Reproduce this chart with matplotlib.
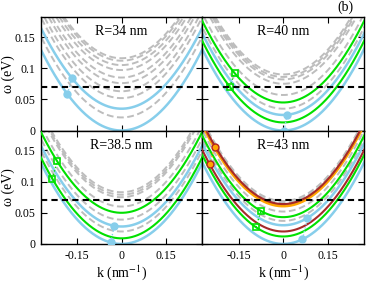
import numpy as np
import matplotlib.pyplot as plt

plt.rcParams['font.family'] = ['Liberation Serif', 'DejaVu Serif']
plt.rcParams['mathtext.fontset'] = 'stix'

# band curvature (eV nm^2) and the dashed reference energy
curv = 1.75
e_ref = 0.07

labels = ['R=34 nm', 'R=40 nm', 'R=38.5 nm', 'R=43 nm']
gray_min = [[0.021, 0.052, 0.063, 0.076, 0.085, 0.097, 0.105, 0.112, 0.116],
            [0.035, 0.057, 0.075, 0.082, 0.086, 0.090],
            [0.020, 0.039, 0.060, 0.075, 0.079, 0.083],
            [0.037, 0.052, 0.066, 0.069]]
blue_min = [[0.0, 0.035], [0.0, 0.025], [0.0, 0.028], [0.0, 0.030]]
green_min = [[], [0.013, 0.045], [0.009, 0.050], [0.012, 0.043]]
red_min = [[], [], [], [0.020, 0.064]]
orange_min = [[], [], [], [0.061]]

# k positions of the markers (lower band, upper band)
blue_k = [[-0.183, -0.167], [0.003, 0.013], [-0.037, -0.024], [0.065, 0.082]]
green_k = [[], [-0.181, -0.164], [-0.234, -0.217], [-0.092, -0.075]]
circ_k = [[], [], [], [-0.248, -0.232]]

kk = np.linspace(-0.3, 0.3, 300)

def band(w0, k):
    return w0 + curv * np.asarray(k) ** 2

fig, axs = plt.subplots(2, 2, figsize=(3.82, 2.85), dpi=100, sharex=True, sharey=True)
fig.subplots_adjust(left=0.1065, right=0.953, top=0.94, bottom=0.144, wspace=0, hspace=0)

for i, ax in enumerate(axs.flat):
    for w0 in gray_min[i]:
        ax.plot(kk, band(w0, kk), color='#bdbdbd', lw=1.4, ls=(0, (3.5, 1.8)), zorder=1)
    for w0 in blue_min[i]:
        ax.plot(kk, band(w0, kk), color='#87ceeb', lw=1.8, zorder=2)
    for w0 in green_min[i]:
        ax.plot(kk, band(w0, kk), color='#00e000', lw=1.5, zorder=3)
    for w0 in orange_min[i]:
        ax.plot(kk, band(w0, kk), color='#ffa500', lw=2.2, zorder=3)
    for w0 in red_min[i]:
        ax.plot(kk, band(w0, kk), color='#a52a2a', lw=1.5, zorder=4)

    if blue_k[i]:
        bw = [band(blue_min[i][0], blue_k[i][0]), band(blue_min[i][1], blue_k[i][1])]
        ax.plot(blue_k[i], bw, color='#87ceeb', ls=':', lw=1, zorder=5)
        ax.plot(blue_k[i], bw, 'o', color='#87ceeb', ms=5, zorder=6)
    if green_k[i]:
        gw = [band(green_min[i][0], green_k[i][0]), band(green_min[i][1], green_k[i][1])]
        ax.plot(green_k[i], gw, color='#00e000', ls=':', lw=1, zorder=5)
        ax.plot(green_k[i], gw, 's', mfc='none', mec='#00e000', mew=1.2, ms=5, zorder=6)
    if circ_k[i]:
        cw = [band(red_min[i][0], circ_k[i][0]), band(orange_min[i][0], circ_k[i][1])]
        ax.plot(circ_k[i], cw, color='#ffa500', ls=':', lw=1, zorder=5)
        ax.plot(circ_k[i], cw, 'o', mfc='#ffa500', mec='#b22222', mew=1, ms=5, zorder=6)

    ax.axhline(e_ref, color='k', ls=(0, (3, 2)), lw=1.5, zorder=7)
    ax.text(0.5, 0.87, labels[i], transform=ax.transAxes, ha='center', va='center', fontsize=10)

    ax.set_xlim(-0.273, 0.273)
    ax.set_ylim(0, 0.182)
    ax.set_xticks([-0.15, 0, 0.15])
    ax.set_yticks([0, 0.05, 0.1, 0.15])
    ax.tick_params(direction='in', top=True, right=True, length=4, width=0.8,
                   labelsize=8.5, pad=4)
    for s in ax.spines.values():
        s.set_linewidth(1)

for ax in axs[:, 0]:
    ax.set_yticklabels(['0', '0.05', '0.1', '0.15'])
    ax.set_ylabel('ω (eV)', fontsize=10)
    ax.yaxis.set_label_coords(-0.16, 0.5)
for ax in axs[1, :]:
    ax.set_xticklabels(['-0.15', '0', '0.15'])
    ax.set_xlabel('k (nm$^{-1}$)', fontsize=10, labelpad=1)

fig.text(345 / 382, 1 - 0.5 / 285, '(b)', ha='center', va='top', fontsize=10)

fig.savefig('out.png', dpi=100)
